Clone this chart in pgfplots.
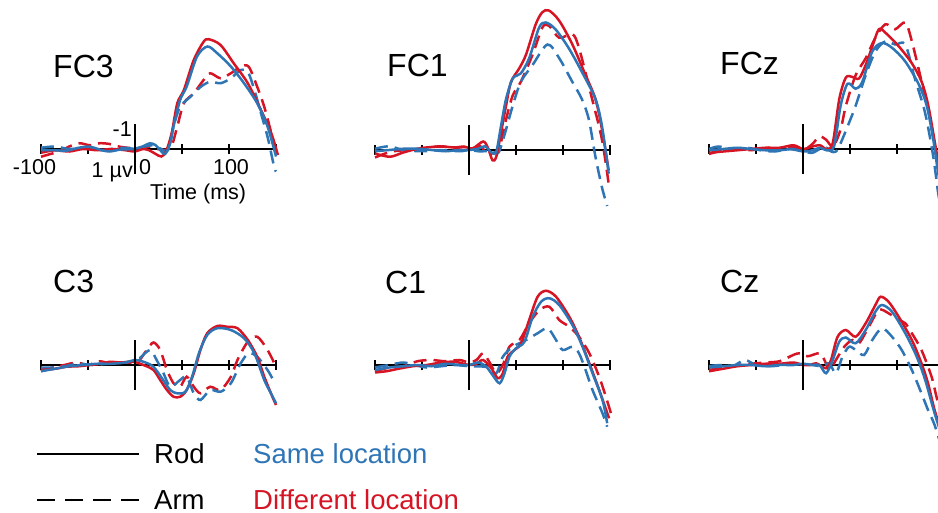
\documentclass[border=0pt]{standalone}
\usepackage{fontspec}
\setmainfont{Liberation Sans}
\usepackage{pgfplots}
\pgfplotsset{compat=1.18}
\definecolor{sameblue}{RGB}{46,117,182}
\definecolor{diffred}{RGB}{214,20,36}

\pgfplotsset{
  erp/.style={x=0.94pt, y=25pt, y dir=reverse, anchor=origin, clip=false,
    xmin=-100, xmax=150, ymin=-6, ymax=3,
    axis y line=none, axis x line*=middle,
    xtick={-100,-50,...,150}, xticklabel=\empty, ytick=\empty,
    tick align=center, major tick length=10pt,
    axis line style={black, line width=1.2pt},
    tick style={black, line width=1.6pt}},
  rodsame/.style={sameblue, line width=2.5pt, smooth, no marks},
  roddiff/.style={diffred, line width=2.5pt, smooth, no marks},
  armsame/.style={sameblue, line width=2.5pt, smooth, no marks, dash pattern=on 13pt off 7pt},
  armdiff/.style={diffred, line width=2.5pt, smooth, no marks, dash pattern=on 13pt off 7pt},
  zeroline/.style={black, line width=1.9pt, sharp plot, no marks},
}
\newcommand\ttl{\fontsize{32}{32}\selectfont}
\newcommand\tck{\fontsize{21.5}{21.5}\selectfont}
\newcommand\lgd{\fontsize{27.5}{27.5}\selectfont}

\begin{document}
\begin{tikzpicture}
\useasboundingbox (0,0) rectangle (938pt,-513pt);
\clip (0,0) rectangle (938pt,-513pt);

% ---------- FC3
\begin{axis}[erp, at={(135pt,-149pt)}]
\addplot[armdiff] coordinates {(-100,0.31)(-90,0.2)(-80,0.1)(-70,-0.1)(-59,-0.23)(-48,-0.15)(-37.5,-0.23)(-27,-0.2)(-16,-0.09)(-2,-0.03)(8,-0.05)(16,-0.09)(24,0.0)(30,0.04)(36,0.0)(39,-0.09)(45,-0.9)(52,-1.83)(62.5,-2.23)(73,-2.76)(80,-3.03)(91,-2.83)(102,-3.03)(112.5,-3.29)(121,-3.29)(130,-2.49)(137.5,-1.69)(145,-0.63)(150,0.17)};
\addplot[armsame] coordinates {(-100,-0.05)(-85,-0.1)(-70,0.0)(-55,-0.05)(-40,0.05)(-25,0.0)(-10,-0.05)(0,0.0)(10,-0.1)(20,-0.15)(28,0.0)(35,0.05)(41,-0.9)(48,-1.69)(59,-2.09)(70,-2.49)(80,-2.69)(91,-2.63)(102,-2.83)(112.5,-3.16)(120,-3.09)(127,-2.36)(134,-1.43)(141,-0.49)(148,0.71)(150,0.9)};
\addplot[roddiff] coordinates {(-100,0.15)(-85,0.05)(-70,0.1)(-55,0.0)(-40,0.05)(-25,0.0)(-10,0.05)(0,0.1)(8,0.0)(15,0.05)(22,0.2)(28,0.3)(33,0.1)(39,-0.63)(45,-1.83)(52,-2.36)(62.5,-3.56)(73,-4.29)(78.6,-4.39)(91,-4.16)(105,-3.43)(120,-2.63)(134,-1.56)(145,-0.63)(152,0.24)};
\addplot[rodsame] coordinates {(-100,0.04)(-85,0.05)(-73,0.07)(-60,-0.05)(-48,-0.09)(-35,0.05)(-27,0.1)(-15,0.02)(-2,0)(8,-0.1)(16,-0.23)(22,-0.15)(27,0.05)(32,0.2)(37.5,-0.23)(41,-0.9)(48,-1.96)(55,-2.5)(66,-3.7)(77,-4.1)(87.5,-3.83)(102,-3.3)(116,-2.63)(130,-1.83)(141,-0.9)(150,0.3)};
\addplot[zeroline] coordinates {(0,-1)(0,1)};
\end{axis}

% ---------- FC1
\begin{axis}[erp, at={(469pt,-150pt)}]
\addplot[armdiff] coordinates {(-100,0.3)(-90,0.15)(-80,0.05)(-65,0.0)(-50,-0.05)(-30,-0.15)(-15,-0.05)(-5,0.0)(5,-0.05)(12,-0.15)(20,0.15)(27,0.1)(32,0.0)(39.4,-1.22)(46.5,-2.18)(55,-2.72)(67.6,-3.81)(78,-4.9)(85,-4.97)(96,-4.49)(110,-4.63)(117,-4.08)(131,-2.04)(141.5,-0.41)(148.6,1.36)};
\addplot[armsame] coordinates {(-100,-0.05)(-85,-0.15)(-70,0.0)(-50,0.05)(-30,0.0)(-10,0.05)(0,0.0)(10,0.05)(20,0.05)(27,0.1)(32,0.07)(39.4,-0.82)(46.5,-1.77)(55,-2.72)(67.6,-3.4)(83.5,-4.22)(96,-3.67)(110,-2.72)(120,-2.04)(127.5,-1.22)(134.5,0.27)(141.5,1.5)(147,2.24)};
\addplot[roddiff] coordinates {(-100,0.14)(-84,0.27)(-70,0.1)(-52,-0.07)(-31,-0.14)(-15,-0.1)(-6,-0.14)(4,-0.07)(15,-0.34)(20,-0.1)(25,0.41)(29,0.27)(34,-0.68)(39.4,-1.77)(44.7,-2.72)(53.5,-3.27)(60.6,-3.81)(71,-5.03)(78,-5.51)(85,-5.58)(96,-5.17)(110,-4.22)(124,-2.99)(134.5,-2.04)(141.5,-0.82)(148.6,0.82)};
\addplot[rodsame] coordinates {(-100,0.05)(-85,0.0)(-70,-0.05)(-55,-0.05)(-40,0.0)(-25,0.05)(-10,0.0)(0,0.0)(10,-0.05)(17,-0.15)(24,0.1)(29,0.07)(34,-0.95)(39.4,-2.04)(46.5,-2.86)(55,-3.06)(64,-3.67)(74.6,-4.9)(81.7,-5.1)(92,-4.83)(106,-4.08)(120,-3.13)(134.5,-2.04)(141.5,-0.95)(148.6,0.95)};
\addplot[zeroline] coordinates {(0,-1)(0,1)};
\end{axis}

% ---------- FCz
\begin{axis}[erp, at={(803pt,-149pt)}]
\addplot[armdiff] coordinates {(-100,0.2)(-85,0.05)(-70,0.0)(-55,0.05)(-40,-0.05)(-25,0.0)(-10,-0.1)(0,0.05)(10,-0.2)(17.5,-0.5)(24.6,-0.37)(32,-0.1)(40,-0.78)(45.6,-1.73)(56,-2.95)(66.7,-3.63)(77,-4.45)(87.7,-4.99)(98,-4.79)(108.8,-5.06)(115.8,-4.31)(126.3,-2.68)(133.3,-1.59)(140.4,-0.1)(150,1.6)};
\addplot[armsame] coordinates {(-100,0.0)(-90,-0.1)(-75,0.0)(-60,-0.05)(-45,0.05)(-30,0.1)(-15,0.0)(0,0.1)(10,0.15)(18,0.0)(25,-0.05)(30,0.1)(35,0.1)(40,-0.23)(49,-1.05)(56,-1.73)(66.7,-2.95)(77,-3.9)(87.7,-4.31)(98,-4.18)(108.8,-4.18)(119,-2.82)(129.8,-1.46)(138.6,0.31)(144,1.81)(150,3.0)};
\addplot[roddiff] coordinates {(-100,0.15)(-85,0.1)(-70,0.05)(-55,0.0)(-40,-0.05)(-25,-0.05)(-10,-0.15)(0,0.0)(10,-0.1)(18,-0.15)(25,0.0)(31.6,-0.23)(38.6,-2.0)(45.6,-2.86)(52.6,-2.88)(59.6,-2.82)(66.7,-3.36)(73.7,-4.1)(80.7,-4.79)(87.7,-4.65)(101.8,-4.11)(115.8,-3.43)(126.3,-2.68)(133.3,-1.73)(140.4,-0.23)(146,1.0)(150,1.8)};
\addplot[rodsame] coordinates {(-100,0.05)(-85,0.0)(-70,-0.05)(-55,0.0)(-40,0.05)(-25,0.05)(-10,0.0)(0,0.1)(10,0.05)(18,-0.05)(25,0.05)(33,-0.1)(40,-1.73)(47.4,-2.61)(56,-2.41)(63,-2.68)(73.7,-3.9)(84,-4.24)(95,-4.04)(108.8,-3.5)(122.8,-2.61)(131.6,-1.73)(138.6,-0.37)(144,1.0)(150,2.0)};
\addplot[zeroline] coordinates {(0,-1)(0,1)};
\end{axis}

% ---------- C3
\begin{axis}[erp, at={(135pt,-365pt)}]
\addplot[armdiff] coordinates {(-100,0.25)(-88,0.1)(-75,0.0)(-62,-0.1)(-50,0.0)(-38,-0.15)(-25,-0.05)(-12,-0.1)(0,-0.1)(5,-0.2)(12.5,-0.6)(19.6,-0.9)(26.8,-0.6)(34,0.2)(41,0.73)(48,0.87)(55,0.47)(62.5,0.87)(69.6,1.13)(80,0.87)(91,1.0)(102,0.47)(109,-0.2)(120,-0.93)(130,-1.13)(141,-0.6)(150,0.07)};
\addplot[armsame] coordinates {(-100,0.1)(-88,0.1)(-75,0.05)(-60,-0.05)(-45,0.0)(-30,-0.05)(-15,-0.1)(0,-0.15)(5,-0.27)(16,-0.6)(23,-0.2)(30,0.3)(37.5,0.87)(48,0.6)(55,0.47)(62.5,1.13)(69.6,1.4)(80,1.0)(91,1.07)(102,0.73)(112.5,-0.07)(121,-0.47)(130,-0.33)(141,0.2)(146,0.53)};
\addplot[roddiff] coordinates {(-100,0.2)(-85,0.15)(-73,0.07)(-60,0.05)(-48,0)(-35,-0.05)(-27,-0.13)(-15,-0.1)(-2,-0.13)(9,0)(19.6,0.2)(26.8,0.6)(34,1.0)(41,1.27)(48,1.27)(55,1.0)(62.5,0.33)(69.6,-0.6)(76.8,-1.27)(87.5,-1.56)(98,-1.53)(109,-1.47)(120,-1.0)(130,-0.33)(137.5,0.47)(144.6,1.13)(150,1.6)};
\addplot[rodsame] coordinates {(-100,0.25)(-85,0.15)(-70,0.05)(-55,0.0)(-40,-0.05)(-25,-0.05)(-10,-0.1)(0,-0.2)(9,-0.13)(19.6,0.07)(30,0.6)(37.5,1.0)(44.6,1.13)(53.6,1.07)(60.7,0.47)(68,-0.47)(76.8,-1.2)(87.5,-1.47)(102,-1.4)(116,-1.07)(127,-0.47)(137.5,0.6)(144.6,1.13)(150,1.53)};
\addplot[zeroline] coordinates {(0,-1)(0,1)};
\end{axis}

% ---------- C1
\begin{axis}[erp, at={(469pt,-365pt)}]
\addplot[armdiff] coordinates {(-100,0.25)(-85,0.1)(-70,0.05)(-55,-0.15)(-40,-0.2)(-25,-0.15)(-10,-0.2)(0,-0.1)(8,-0.2)(15,-0.47)(22,-0.1)(29,0.33)(36,0.0)(43,-0.73)(53.7,-1.0)(64,-1.67)(75,-2.2)(85.5,-2.33)(96,-1.8)(106.7,-1.53)(117,-1.13)(128,-0.47)(138.5,0.47)(145.6,1.27)(151,1.93)};
\addplot[armsame] coordinates {(-100,0.1)(-85,0.0)(-70,-0.1)(-58,0.0)(-45,0.1)(-30,0.05)(-15,0.0)(0,0.05)(10,0.05)(20,0.1)(29,0.33)(36,-0.33)(46.6,-0.73)(60.8,-1.0)(73,-1.27)(83.7,-1.47)(92.6,-1.0)(99.6,-0.6)(110,-0.73)(117,-0.47)(124,0.2)(131.4,1.0)(142,1.93)(147,2.47)};
\addplot[roddiff] coordinates {(-100,0.3)(-88,0.25)(-75,0.15)(-60,0.05)(-45,0.0)(-30,-0.1)(-15,-0.13)(0,0.0)(8,-0.05)(15,-0.2)(23.7,0.13)(30.7,0.53)(36,0.33)(41,-0.33)(48.4,-0.6)(55.5,-0.87)(64,-1.8)(73,-2.73)(82,-2.97)(92.6,-2.73)(106.7,-1.93)(117,-1.13)(128,-0.07)(138.5,1.0)(149,2.13)};
\addplot[rodsame] coordinates {(-100,0.2)(-85,0.1)(-70,0.05)(-55,0.0)(-40,0.05)(-25,-0.05)(-10,0.0)(0,0.0)(10,-0.1)(18,0.05)(25,0.4)(32.5,0.73)(37.8,0.33)(43,-0.33)(50,-0.67)(59,-0.93)(67.8,-1.93)(76.7,-2.53)(85.5,-2.67)(96,-2.4)(110,-1.6)(120.8,-0.73)(131.4,0.33)(142,1.4)(147,2.33)};
\addplot[zeroline] coordinates {(0,-1)(0,1)};
\end{axis}

% ---------- Cz
\begin{axis}[erp, at={(803pt,-365pt)}]
\addplot[armdiff] coordinates {(-100,0.2)(-85,0.1)(-70,0.0)(-55,-0.05)(-40,-0.1)(-25,-0.15)(-10.5,-0.4)(-3.5,-0.47)(5,-0.35)(17.5,-0.47)(22.8,-0.2)(28,0.2)(35,-0.2)(43.9,-0.73)(52.6,-1.0)(59.6,-0.87)(70,-1.53)(80.7,-2.2)(91,-2.07)(101.8,-1.8)(108.8,-1.67)(115.8,-1.27)(126,-0.6)(136.8,0.47)(142,1.27)(150,2.4)};
\addplot[armsame] coordinates {(-100,0.05)(-88,0.0)(-75,0.05)(-62,-0.2)(-50,0.0)(-35,0.05)(-20,0.0)(-5,-0.05)(10,0.0)(20,0.05)(28,-0.07)(35,0.33)(42,-0.33)(49,-0.73)(56,-0.6)(65,-0.4)(73.7,-1.0)(84,-1.47)(94.7,-1.13)(105,-0.6)(115.8,0.2)(126,1.13)(133,1.8)(140,2.4)(150,3.6)};
\addplot[roddiff] coordinates {(-100,0.25)(-85,0.15)(-70,0.05)(-55,0.0)(-40,-0.05)(-25,-0.05)(-10,-0.1)(0,0.0)(8,0.0)(14,-0.07)(24.6,0.13)(29.8,-0.2)(36.8,-1.13)(45.6,-1.4)(56,-1.13)(66.7,-1.67)(77,-2.4)(82.5,-2.73)(91,-2.53)(101.8,-1.93)(115.8,-1.0)(126,-0.07)(133,0.73)(140,1.8)(150,3.0)};
\addplot[rodsame] coordinates {(-100,0.1)(-85,0.05)(-70,0.0)(-55,0.0)(-40,0.05)(-25,0.0)(-10,0.0)(0,-0.05)(10,0.0)(17.5,0.0)(24.6,0.33)(31.6,-0.2)(38.6,-0.93)(45.6,-1.1)(56,-0.87)(66.7,-1.4)(77,-2.13)(84,-2.4)(94.7,-2.13)(108.8,-1.27)(121,-0.33)(130,0.6)(140,1.93)(150,3.1)};
\addplot[zeroline] coordinates {(0,-1)(0,1)};
\end{axis}

% ---------- titles
\node[anchor=west, inner sep=0, font=\ttl] at (53pt,-66pt) {FC3};
\node[anchor=west, inner sep=0, font=\ttl] at (387pt,-65pt) {FC1};
\node[anchor=west, inner sep=0, font=\ttl] at (720pt,-63pt) {FCz};
\node[anchor=west, inner sep=0, font=\ttl] at (53pt,-281pt) {C3};
\node[anchor=west, inner sep=0, font=\ttl] at (385pt,-282pt) {C1};
\node[anchor=west, inner sep=0, font=\ttl] at (720pt,-281pt) {Cz};

% ---------- scale labels in FC3
\node[anchor=base, inner sep=0, font=\tck] at (34.5pt,-175pt) {-100};
\node[anchor=base, inner sep=0, font=\tck] at (145pt,-175pt) {0};
\node[anchor=base, inner sep=0, font=\tck] at (231pt,-175pt) {100};
\node[anchor=base east, inner sep=0, font=\tck] at (132pt,-137pt) {-1};
\node[anchor=base east, inner sep=0, font=\tck] at (133pt,-178pt) {1 µv};
\node[anchor=base west, inner sep=0, font=\tck] at (150pt,-200pt) {Time (ms)};

% ---------- legend
\draw[black, line width=2pt] (37pt,-454pt) -- (139pt,-454pt);
\draw[black, line width=2pt, dash pattern=on 18pt off 10pt] (37pt,-500pt) -- (139pt,-500pt);
\node[anchor=base west, inner sep=0, font=\lgd] at (154pt,-463pt) {Rod};
\node[anchor=base west, inner sep=0, font=\lgd] at (154pt,-509pt) {Arm};
\node[anchor=base west, inner sep=0, font=\lgd, text=sameblue] at (253pt,-463pt) {Same location};
\node[anchor=base west, inner sep=0, font=\lgd, text=diffred] at (253pt,-509pt) {Different location};
\end{tikzpicture}
\end{document}
